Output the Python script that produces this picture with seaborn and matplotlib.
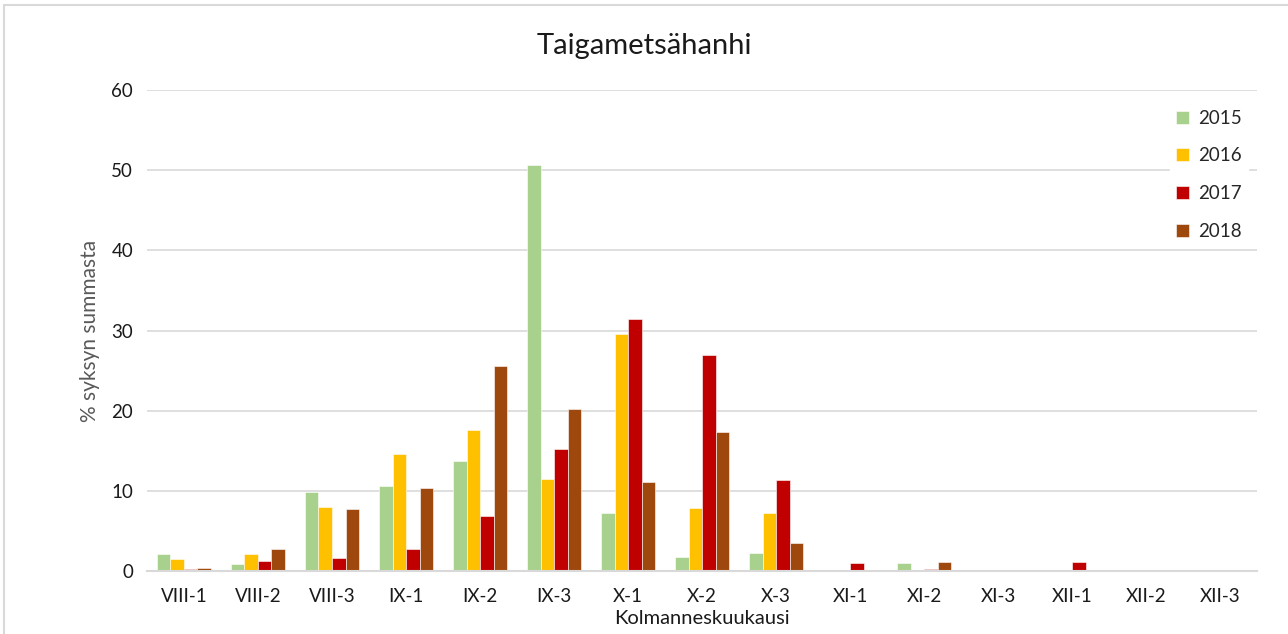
import pandas as pd
import numpy as np
from matplotlib import pyplot as plt
from matplotlib.patches import Rectangle
import seaborn as sns

sns.set_theme(style="white")
plt.rcParams['font.family'] = ['Lato', 'DejaVu Sans']

periods = ["VIII-1", "VIII-2", "VIII-3", "IX-1", "IX-2", "IX-3", "X-1", "X-2",
           "X-3", "XI-1", "XI-2", "XI-3", "XII-1", "XII-2", "XII-3"]
years = ["2015", "2016", "2017", "2018"]

v2015 = [2.1, 0.9, 9.8, 10.6, 13.7, 50.6, 7.2, 1.8, 2.3, 0.05, 1.0, 0, 0, 0, 0]
v2016 = [1.5, 2.1, 8.0, 14.6, 17.6, 11.5, 29.6, 7.8, 7.2, 0.05, 0.05, 0, 0, 0, 0]
v2017 = [0.25, 1.3, 1.6, 2.8, 6.9, 15.2, 31.4, 26.9, 11.4, 0.95, 0.2, 0, 1.1, 0, 0]
v2018 = [0.35, 2.7, 7.7, 10.3, 25.6, 20.2, 11.1, 17.3, 3.5, 0.1, 1.1, 0, 0, 0, 0]

colors = ["#A9D18E", "#FFC000", "#C00000", "#9E480E"]

rows = []
for year, vals in zip(years, [v2015, v2016, v2017, v2018]):
    for p, v in zip(periods, vals):
        rows.append({"period": p, "year": year, "value": v})
df = pd.DataFrame(rows)

fig = plt.figure(figsize=(12.88, 6.34), dpi=100)
ax = fig.add_axes([0.1141, 0.0994, 0.862, 0.7586])

sns.barplot(
    data=df, x="period", y="value",
    hue="year", hue_order=years, order=periods,
    palette=colors, saturation=1, width=0.73, gap=0,
    edgecolor="white", linewidth=0.4,
    errorbar=None, ax=ax
)

ax.set_ylim(0, 60)
ax.set_xlim(-0.5, len(periods) - 0.5)
ax.set_yticks(range(0, 61, 10))
ax.yaxis.grid(True, color="#D9D9D9", linewidth=1.2)
ax.set_axisbelow(True)
for s in ["top", "right", "left"]:
    ax.spines[s].set_visible(False)
ax.spines["bottom"].set_color("#D9D9D9")
ax.spines["bottom"].set_linewidth(1.5)
ax.tick_params(axis="both", length=0, labelsize=13.5, colors="#1a1a1a", pad=10)
ax.tick_params(axis="x", pad=12)

fig.text(0.5, 0.928, "Taigametsähanhi", fontsize=21, color="#1a1a1a",
         ha="center", va="center")
ax.set_xlabel("Kolmanneskuukausi", fontsize=14.5, color="#1a1a1a", labelpad=4)
ax.set_ylabel("% syksyn summasta", fontsize=15, color="#595959", labelpad=8)

leg = ax.legend(loc="upper right", bbox_to_anchor=(1.0, 0.99), frameon=True,
                fontsize=13.5, handlelength=0.7, handleheight=0.7,
                labelspacing=1.1, borderpad=0.3, handletextpad=0.5)
leg.get_frame().set_facecolor("white")
leg.get_frame().set_edgecolor("white")
leg.get_frame().set_alpha(1)

fig.patches.append(Rectangle((0.003, -0.01), 1.0, 1.002, transform=fig.transFigure,
                             fill=False, edgecolor="#D9D9D9", linewidth=1.5))

fig.savefig("out.png", dpi=100)
